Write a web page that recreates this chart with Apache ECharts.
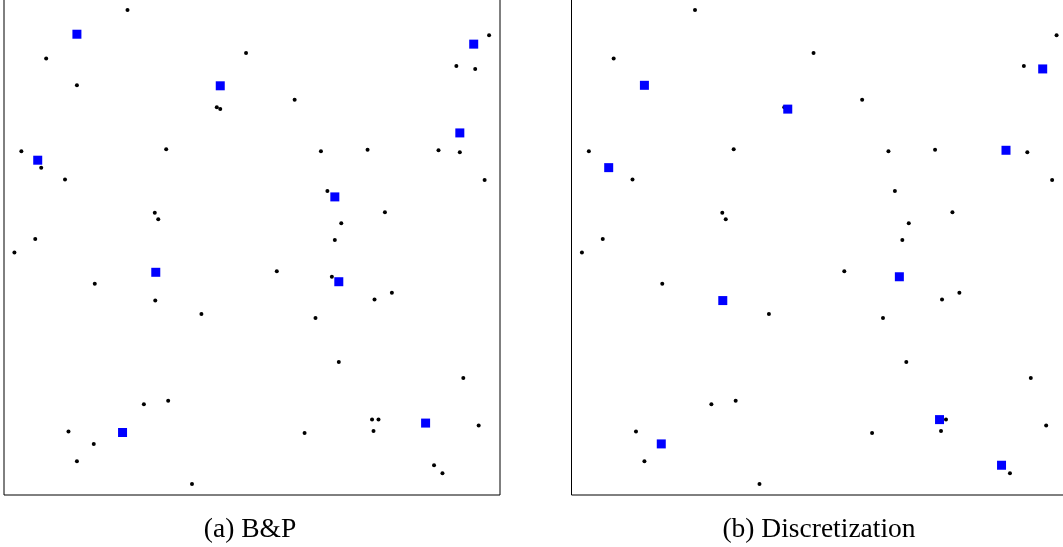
<!DOCTYPE html>
<html>
<head>
<meta charset="utf-8">
<script src="https://cdn.jsdelivr.net/npm/echarts@6/dist/echarts.min.js"></script>
<style>
html,body{margin:0;padding:0;background:#fff;overflow:hidden;}
#chart{width:1063px;height:547px;}
</style>
</head>
<body>
<div id="chart"></div>
<script>
// Demand points (shared by both panels), unit square coordinates
var demandX = [0.249,0.085,0.147,0.488,0.429,0.436,0.035,0.075,0.123,0.327,
               0.304,0.311,0.063,0.978,0.912,0.950,0.586,0.639,0.733,0.876,
               0.919,0.969,0.652,0.768,0.680,0.667,0.021,0.183,0.305,0.398,
               0.282,0.331,0.130,0.181,0.147,0.379,0.550,0.661,0.782,0.747,
               0.628,0.675,0.926,0.742,0.755,0.745,0.606,0.957,0.867,0.884];
var demandY = [0.978,0.880,0.826,0.891,0.782,0.778,0.693,0.660,0.636,0.697,
               0.569,0.556,0.516,0.927,0.865,0.859,0.797,0.693,0.696,0.695,
               0.691,0.635,0.613,0.570,0.548,0.514,0.489,0.426,0.392,0.365,
               0.183,0.190,0.128,0.103,0.068,0.022,0.451,0.440,0.408,0.394,
               0.357,0.268,0.236,0.152,0.152,0.129,0.125,0.140,0.060,0.044];
// Facilities chosen by B&P
var bpX = [0.147,0.436,0.068,0.947,0.919,0.667,0.306,0.239,0.675,0.850];
var bpY = [0.929,0.825,0.675,0.909,0.730,0.601,0.449,0.126,0.430,0.145];
// Facilities chosen by Discretization
var discX = [0.147,0.436,0.075,0.950,0.876,0.305,0.181,0.661,0.742,0.867];
var discY = [0.826,0.778,0.660,0.859,0.695,0.392,0.103,0.440,0.152,0.060];
var captions = ['(a) B&P', '(b) Discretization'];

function pairs(xs, ys){ return xs.map(function(x,i){ return [x, ys[i]]; }); }

var chart = echarts.init(document.getElementById('chart'));
var grids = [
  {left: 4, top: -1, width: 496, height: 496},
  {left: 571.5, top: -1, width: 496, height: 496}
];
var axisBase = {type:'value', min:0, max:1, show:false, splitLine:{show:false}};
var capStyle = {fontFamily:'Liberation Serif', fontWeight:'normal', fontSize:27.5, color:'#000'};
var dotStyle = {color:'#000', opacity:1};
var sqStyle = {color:'#0000ff', opacity:1};
var option = {
  animation: false,
  backgroundColor: '#fff',
  grid: grids.map(function(g){ return Object.assign({show:true, borderColor:'#000', borderWidth:1, backgroundColor:'transparent', containLabel:false, outerBoundsMode:'none'}, g); }),
  xAxis: [Object.assign({gridIndex:0}, axisBase), Object.assign({gridIndex:1}, axisBase)],
  yAxis: [Object.assign({gridIndex:0}, axisBase), Object.assign({gridIndex:1}, axisBase)],
  title: [
    {text: captions[0], left: 245, top: 511, textAlign:'center', textStyle: capStyle},
    {text: captions[1], left: 814, top: 511, textAlign:'center', textStyle: capStyle}
  ],
  series: [
    {type:'scatter', xAxisIndex:0, yAxisIndex:0, data: pairs(demandX, demandY), symbol:'circle', symbolSize:4, itemStyle:dotStyle, z:2, silent:true},
    {type:'scatter', xAxisIndex:0, yAxisIndex:0, data: pairs(bpX, bpY), symbol:'rect', symbolSize:9, itemStyle:sqStyle, z:3, silent:true},
    {type:'scatter', xAxisIndex:1, yAxisIndex:1, data: pairs(demandX, demandY), symbol:'circle', symbolSize:4, itemStyle:dotStyle, z:2, silent:true},
    {type:'scatter', xAxisIndex:1, yAxisIndex:1, data: pairs(discX, discY), symbol:'rect', symbolSize:9, itemStyle:sqStyle, z:3, silent:true}
  ]
};
chart.setOption(option);
</script>
</body>
</html>
